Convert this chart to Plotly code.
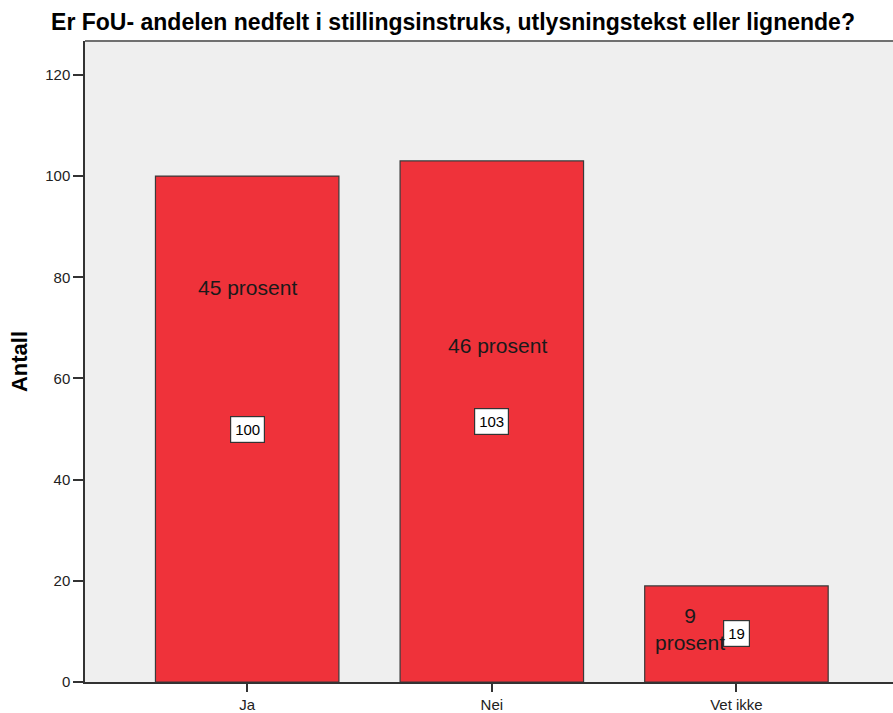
import plotly.graph_objects as go

categories = ["Ja", "Nei", "Vet ikke"]
counts = [100, 103, 19]
percent_labels = ["45 prosent", "46 prosent", "9<br>prosent"]
percent_label_y = [78, 66.5, 10.5]
percent_label_xoff = [0, 0.022, -0.19]
y_ticks = [0, 20, 40, 60, 80, 100, 120]

FONT = "Liberation Sans, Arial"

fig = go.Figure()
fig.add_trace(go.Bar(
    x=list(range(len(categories))), y=counts,
    width=0.75,
    marker=dict(color="#EF323A", line=dict(color="#3a3a3a", width=1.2)),
    hoverinfo="skip",
))

for i, c in enumerate(counts):
    fig.add_annotation(x=i, y=c / 2, text=str(c), showarrow=False,
                       font=dict(family=FONT, size=15, color="black"),
                       bgcolor="white", bordercolor="#333333", borderwidth=1.2, borderpad=4)
for i, t in enumerate(percent_labels):
    fig.add_annotation(x=i + percent_label_xoff[i], y=percent_label_y[i], text=t, showarrow=False,
                       font=dict(family=FONT, size=21, color="#1a1a1a"))

fig.update_layout(
    width=893, height=713,
    margin=dict(l=85, r=0, t=41, b=29),
    paper_bgcolor="white", plot_bgcolor="#EFEFEF",
    title=dict(text="<b>Er FoU- andelen nedfelt i stillingsinstruks, utlysningstekst eller lignende?</b>",
               x=(44 + 862) / 2 / 893, xanchor="center", y=1 - 22 / 713, yanchor="middle",
               font=dict(family=FONT, size=23, color="black")),
    showlegend=False,
)
fig.update_xaxes(
    range=[-0.663, 2.64], tickvals=list(range(len(categories))), ticktext=categories,
    showgrid=False, zeroline=False, showline=True, linecolor="#333333", linewidth=1.5,
    ticks="outside", ticklen=8, tickcolor="#333333", tickwidth=1.5,
    tickfont=dict(family=FONT, size=15, color="#222222"),
    fixedrange=True,
)
fig.update_yaxes(
    range=[0, 126.7], tickvals=y_ticks,
    showgrid=False, zeroline=False, showline=True, linecolor="#333333", linewidth=1.5,
    ticks="outside", ticklen=10, tickcolor="#333333", tickwidth=1.5,
    tickfont=dict(family=FONT, size=15, color="#222222"),
    title=dict(text="<b>Antall</b>", font=dict(family=FONT, size=22, color="black"), standoff=12),
)
fig.add_shape(type="line", xref="paper", yref="paper", x0=0, x1=1, y0=1, y1=1,
              line=dict(color="#707070", width=2))
fig.write_html("out.html", config={"displayModeBar": False},
               post_script="document.body.style.margin='0';")
